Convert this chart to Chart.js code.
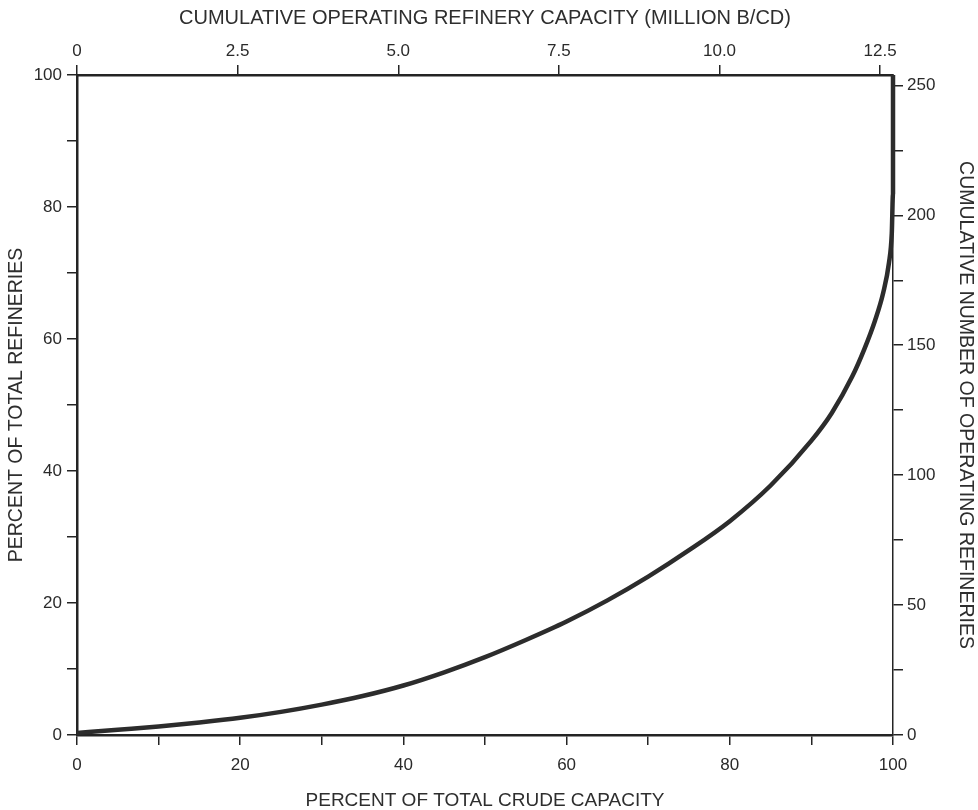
<!DOCTYPE html>
<html>
<head>
<meta charset="utf-8">
<script src="https://cdn.jsdelivr.net/npm/chart.js@4/dist/chart.umd.min.js"></script>
<style>
  html, body { margin: 0; padding: 0; background: #ffffff; }
  #wrap { width: 978px; height: 810px; }
</style>
</head>
<body>
<div id="wrap"><canvas id="c" width="978" height="810"></canvas></div>
<script>
// Cumulative share of crude capacity (x) against cumulative share of refineries (y)
const capacityPct = [0, 5, 10, 15, 20, 25, 30, 35, 40, 45, 50, 55, 60, 65, 70, 75, 80, 85, 90, 92.5, 95, 96.5, 97.8, 98.8, 99.5, 99.85, 100, 100];
const refineryPct = [0.3, 0.8, 1.3, 1.9, 2.6, 3.5, 4.6, 5.9, 7.5, 9.5, 11.8, 14.4, 17.2, 20.4, 24.0, 28.0, 32.4, 37.8, 44.6, 48.8, 54.3, 58.5, 62.8, 67.0, 71.5, 76.0, 82.0, 100];

// Axis tick values and their printed labels ('' = unlabeled tick mark)
const pctTicks = [0, 10, 20, 30, 40, 50, 60, 70, 80, 90, 100];
const pctTickLabels = ['0', '', '20', '', '40', '', '60', '', '80', '', '100'];
const capacityTicks = [0, 2.5, 5, 7.5, 10, 12.5];
const capacityTickLabels = ['0', '2.5', '5.0', '7.5', '10.0', '12.5'];
const countTicks = [0, 25, 50, 75, 100, 125, 150, 175, 200, 225, 250];
const countTickLabels = ['0', '', '50', '', '100', '', '150', '', '200', '', '250'];

const capacityMax = 12.7;   // million B/CD at 100 percent
const refineryCount = 254;  // refineries at 100 percent

const INK = '#242424';
const FONT = "'Liberation Sans', Arial, sans-serif";

function fixedTicks(values) {
  return function (scale) { scale.ticks = values.map(v => ({ value: v })); };
}
function labelFrom(values, labels) {
  return function (v) { const i = values.indexOf(v); return i >= 0 ? labels[i] : ''; };
}
function axisBase() {
  return {
    border: { display: true, color: INK, width: 2.5 },
    grid: { drawOnChartArea: false, drawTicks: true, tickLength: 10, color: INK, lineWidth: 1.5 },
    ticks: { color: '#2a2a2a', font: { family: FONT, size: 17 }, padding: 4, maxRotation: 0, autoSkip: false },
    title: { display: true, color: '#2e2e2e', font: { family: FONT, size: 19, lineHeight: 1 } }
  };
}

const xAxis = axisBase();
Object.assign(xAxis, { type: 'linear', position: 'bottom', min: 0, max: 100,
  afterBuildTicks: fixedTicks(pctTicks), afterFit: s => { s.height = 75; } });
xAxis.ticks.callback = labelFrom(pctTicks, pctTickLabels);
xAxis.ticks.padding = 10;
xAxis.title.text = 'PERCENT OF TOTAL CRUDE CAPACITY';
xAxis.title.padding = { top: 0, bottom: 0 };

const xTop = axisBase();
Object.assign(xTop, { type: 'linear', position: 'top', min: 0, max: capacityMax,
  afterBuildTicks: fixedTicks(capacityTicks), afterFit: s => { s.height = 75; } });
xTop.ticks.callback = labelFrom(capacityTicks, capacityTickLabels);
xTop.ticks.padding = 3;
xTop.title.text = 'CUMULATIVE OPERATING REFINERY CAPACITY (MILLION B/CD)';
xTop.title.font.size = 20;
xTop.title.padding = { top: 8, bottom: 0 };

const yAxis = axisBase();
Object.assign(yAxis, { type: 'linear', position: 'left', min: 0, max: 100,
  afterBuildTicks: fixedTicks(pctTicks), afterFit: s => { s.width = 77; } });
yAxis.ticks.callback = labelFrom(pctTicks, pctTickLabels);
yAxis.ticks.padding = 5;
yAxis.title.text = 'PERCENT OF TOTAL REFINERIES';
yAxis.title.font.size = 19.5;
yAxis.title.padding = { top: 7, bottom: 0 };

const yRight = axisBase();
Object.assign(yRight, { type: 'linear', position: 'right', min: 0, max: refineryCount,
  afterBuildTicks: fixedTicks(countTicks), afterFit: s => { s.width = 85; } });
yRight.border.width = 1.5;
yRight.ticks.padding = 4;
yRight.ticks.callback = labelFrom(countTicks, countTickLabels);
yRight.title.text = 'CUMULATIVE NUMBER OF OPERATING REFINERIES';
yRight.title.font.size = 19.5;
yRight.title.padding = { top: 3, bottom: 0 };

new Chart(document.getElementById('c'), {
  type: 'scatter',
  data: {
    datasets: [{
      data: capacityPct.map((x, i) => ({ x: x, y: refineryPct[i] })),
      showLine: true,
      borderColor: '#2c2c2c',
      borderWidth: 4.5,
      pointRadius: 0,
      cubicInterpolationMode: 'monotone',
      borderCapStyle: 'butt',
      borderJoinStyle: 'round',
      xAxisID: 'x',
      yAxisID: 'y',
      clip: 6
    }]
  },
  options: {
    responsive: false,
    animation: false,
    layout: { padding: 0 },
    plugins: { legend: { display: false }, tooltip: { enabled: false } },
    scales: { x: xAxis, x2: xTop, y: yAxis, y2: yRight }
  }
});
</script>
</body>
</html>
